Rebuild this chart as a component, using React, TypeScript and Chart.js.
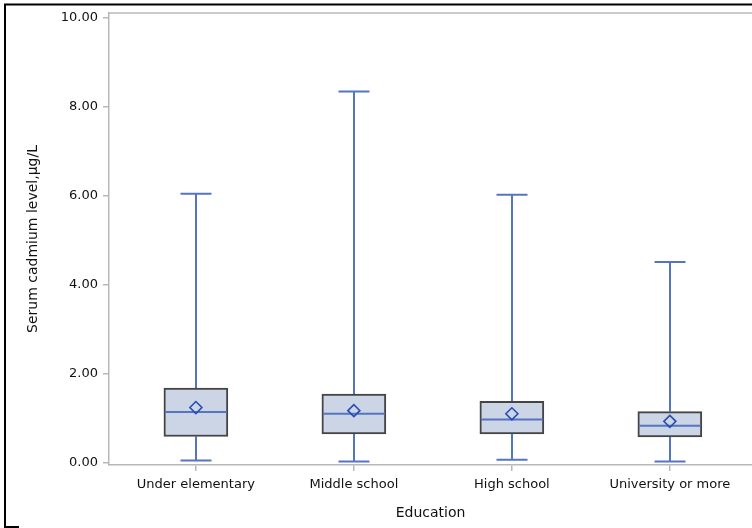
import React, { useEffect, useRef } from "react";
import { Chart, registerables } from "chart.js";

Chart.register(...registerables);

// Education groups and serum cadmium summary statistics (µg/L)
const categories = ["Under elementary", "Middle school", "High school", "University or more"];
const whiskerLow = [0.05, 0.03, 0.07, 0.03];
const q1 = [0.59, 0.65, 0.65, 0.58];
const medians = [1.14, 1.1, 0.97, 0.83];
const q3 = [1.68, 1.54, 1.38, 1.15];
const whiskerHigh = [6.04, 8.34, 6.02, 4.51];
const means = [1.24, 1.17, 1.1, 0.93];
const yTicks = [0, 2, 4, 6, 8, 10];

const FONT = "DejaVu Sans";
const AXIS_GRAY = "#b8b8b8";
const WHISKER_BLUE = "#5575c2";
const MEAN_BLUE = "#2a4cb0";
const BOX_FILL = "#cbd5e6";
const BOX_EDGE = "#444444";

// Whiskers under the boxes, medians on top, plus the frame lines.
const boxPlotPlugin = {
  id: "boxPlotExtras",
  beforeDatasetsDraw(chart: any) {
    const { ctx, scales } = chart;
    const xs = scales.x;
    const ys = scales.y;
    ctx.save();
    ctx.strokeStyle = WHISKER_BLUE;
    ctx.lineWidth = 2;
    const capHalf = 15.5;
    categories.forEach((_, i) => {
      const cx = Math.round(xs.getPixelForValue(i + 1));
      const yLo = ys.getPixelForValue(whiskerLow[i]);
      const yQ1 = ys.getPixelForValue(q1[i]);
      const yQ3 = ys.getPixelForValue(q3[i]);
      const yHi = ys.getPixelForValue(whiskerHigh[i]);
      ctx.beginPath();
      ctx.moveTo(cx, yLo);
      ctx.lineTo(cx, yQ1);
      ctx.moveTo(cx, yQ3);
      ctx.lineTo(cx, yHi);
      ctx.moveTo(cx - capHalf, yLo);
      ctx.lineTo(cx + capHalf, yLo);
      ctx.moveTo(cx - capHalf, yHi);
      ctx.lineTo(cx + capHalf, yHi);
      ctx.stroke();
    });
    ctx.restore();
  },
  afterDatasetDraw(chart: any, args: any) {
    if (args.meta.type !== "bar") return;
    const { ctx, scales } = chart;
    const xs = scales.x;
    const ys = scales.y;
    ctx.save();
    ctx.strokeStyle = WHISKER_BLUE;
    ctx.lineWidth = 2;
    categories.forEach((_, i) => {
      const cx = xs.getPixelForValue(i + 1);
      const half = 31;
      const yMed = ys.getPixelForValue(medians[i]);
      ctx.beginPath();
      ctx.moveTo(cx - half, yMed);
      ctx.lineTo(cx + half, yMed);
      ctx.stroke();
    });
    ctx.restore();
  },
  afterDraw(chart: any) {
    const { ctx, chartArea } = chart;
    ctx.save();
    // top edge of the plot frame
    ctx.strokeStyle = AXIS_GRAY;
    ctx.lineWidth = 1.5;
    ctx.beginPath();
    ctx.moveTo(chartArea.left, chartArea.top);
    ctx.lineTo(chart.width, chartArea.top);
    ctx.stroke();
    // outer figure border
    ctx.strokeStyle = "#000000";
    ctx.lineWidth = 2;
    ctx.beginPath();
    ctx.moveTo(5, 4);
    ctx.lineTo(5, 527);
    ctx.lineTo(19, 527);
    ctx.moveTo(4, 4.5);
    ctx.lineTo(chart.width, 4.5);
    ctx.stroke();
    ctx.restore();
  },
};

export default function App() {
  const canvasRef = useRef<HTMLCanvasElement | null>(null);

  useEffect(() => {
    if (!canvasRef.current) return;
    Chart.defaults.font.family = FONT;
    const chart = new Chart(canvasRef.current, {
      type: "bar",
      data: {
        datasets: [
          {
            type: "line",
            label: "Mean",
            data: categories.map((_, i) => ({ x: i + 1, y: means[i] })),
            showLine: false,
            pointStyle: "rectRot",
            pointRadius: 6,
            pointBorderWidth: 1.6,
            pointBorderColor: MEAN_BLUE,
            pointBackgroundColor: "rgba(0,0,0,0)",
            order: 1,
          } as any,
          {
            type: "bar",
            label: "IQR",
            data: categories.map((_, i) => ({ x: i + 1, y: [q1[i], q3[i]] })) as any,
            backgroundColor: BOX_FILL,
            borderColor: BOX_EDGE,
            borderWidth: 2,
            borderSkipped: false,
            barThickness: 64,
            order: 2,
          },
        ],
      },
      options: {
        responsive: false,
        animation: false,
        events: [],
        layout: { autoPadding: false, padding: { left: 25, top: 13, right: 0, bottom: 6 } },
        plugins: {
          legend: { display: false },
          tooltip: { enabled: false },
        },
        scales: {
          x: {
            type: "linear",
            offset: false,
            min: 0.45,
            max: 4.52,
            afterBuildTicks: (axis: any) => {
              axis.ticks = categories.map((_, i) => ({ value: i + 1 }));
            },
            afterFit: (scale: any) => {
              scale.height = 528 - 465 - 6;
              scale.paddingRight = 0;
            },
            grid: {
              offset: false,
              drawOnChartArea: false,
              drawTicks: true,
              tickLength: 6,
              color: AXIS_GRAY,
              lineWidth: 1.5,
            },
            border: { display: true, color: AXIS_GRAY, width: 1.5 },
            ticks: {
              autoSkip: false,
              maxRotation: 0,
              color: "#111111",
              font: { size: 13, family: FONT },
              padding: 6,
              callback: (v: any) => categories[Number(v) - 1] ?? "",
            },
            title: {
              display: true,
              text: "Education",
              color: "#111111",
              font: { size: 14, family: FONT },
              padding: 0,
            },
          },
          y: {
            type: "linear",
            min: -0.05,
            max: 10.1,
            afterBuildTicks: (axis: any) => {
              axis.ticks = yTicks.map((v) => ({ value: v }));
            },
            afterFit: (scale: any) => {
              scale.width = 109 - 25;
            },
            grid: {
              drawOnChartArea: false,
              drawTicks: true,
              tickLength: 6,
              color: AXIS_GRAY,
              lineWidth: 1.5,
            },
            border: { display: true, color: AXIS_GRAY, width: 1.5 },
            ticks: {
              color: "#111111",
              font: { size: 13, family: FONT },
              padding: 5,
              callback: (v: any) => Number(v).toFixed(2),
            },
            title: {
              display: true,
              text: "Serum cadmium level,μg/L",
              color: "#111111",
              font: { size: 14, family: FONT },
              padding: 0,
            },
          },
        },
      },
      plugins: [boxPlotPlugin],
    });
    return () => chart.destroy();
  }, []);

  return (
    <div style={{ position: "fixed", left: 0, top: 0, width: 752, height: 528, background: "#ffffff" }}>
      <canvas ref={canvasRef} width={752} height={528} />
    </div>
  );
}
